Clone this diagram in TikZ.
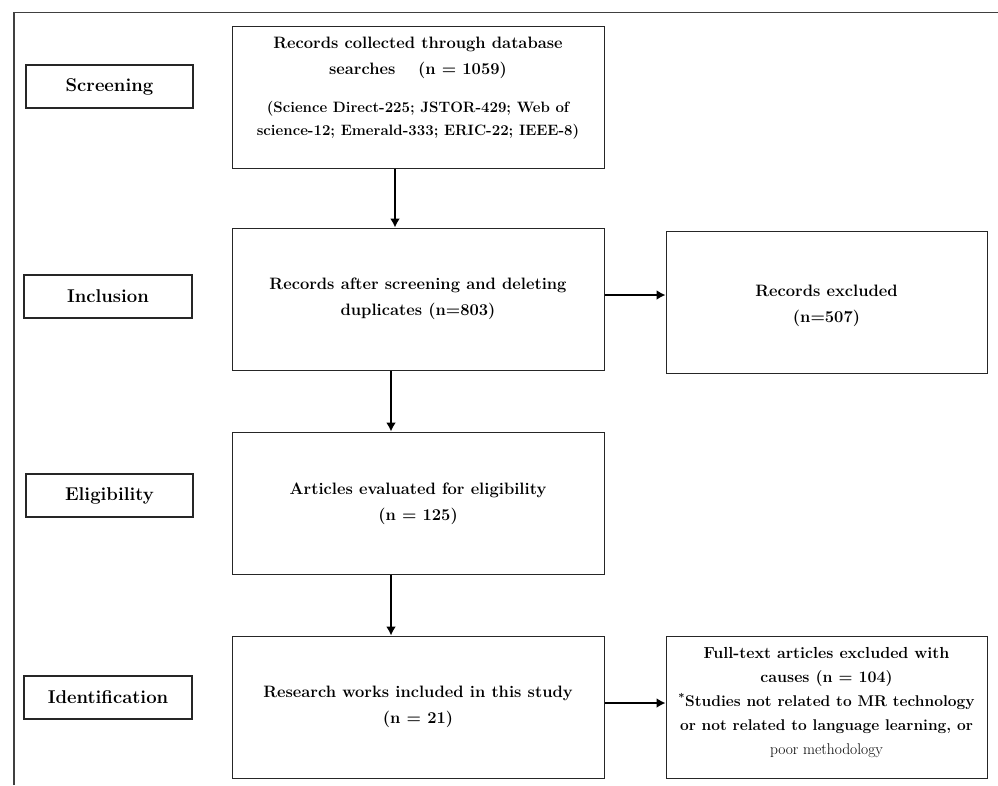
\documentclass[tikz,border=0pt]{standalone}
\usetikzlibrary{arrows.meta}
\begin{document}
\begin{tikzpicture}[x=1pt,y=-1pt,
  stage/.style={draw=black!85,line width=1.2pt,inner sep=0pt},
  flowbox/.style={draw=black!85,line width=1pt,inner sep=0pt},
  txt/.style={align=center,inner sep=0pt,font=\fontsize{16.5}{26}\selectfont\bfseries},
  small/.style={align=center,inner sep=0pt,font=\fontsize{15}{23}\selectfont\bfseries},
  rtxt/.style={align=center,inner sep=0pt,font=\fontsize{15.5}{24}\selectfont\bfseries},
  stagetxt/.style={inner sep=0pt,font=\fontsize{18.5}{20}\selectfont\bfseries},
  arr/.style={line width=2.6pt,-{Latex[length=9pt,width=10pt]}}]
\useasboundingbox (0,0) rectangle (998,785);
% outer frame (top and left edges)
\coordinate (ftl) at (14,12.5);
\coordinate (ftr) at (998,12.5);
\coordinate (fbl) at (14,785);
\draw[line width=1.4pt,black!75] (fbl) -- (ftl) -- (ftr);
% stage labels
\node[stage,minimum width=167,minimum height=43] (s1) at (109.5,86.5) {};
\node[stagetxt] (s1t) at (s1) {Screening};
\node[stage,minimum width=168,minimum height=43] (s2) at (108,296.5) {};
\node[stagetxt] (s2t) at (s2) {Inclusion};
\node[stage,minimum width=167,minimum height=43] (s3) at (109.5,495.5) {};
\node[stagetxt] (s3t) at (s3) {Eligibility};
\node[stage,minimum width=168,minimum height=43] (s4) at (108,697.5) {};
\node[stagetxt] (s4t) at (s4) {Identification};
% main boxes
\node[flowbox,minimum width=372,minimum height=142] (b1) at (418,97) {};
\node[txt] (b1t) at (418,58) {Records collected through database\\searches \quad (n = 1059)};
\node[small] (b1s) at (418,120) {(Science Direct-225; JSTOR-429; Web of\\science-12; Emerald-333; ERIC-22; IEEE-8)};
\node[flowbox,minimum width=372,minimum height=142] (b2) at (418,299) {};
\node[txt] (b2t) at (418,299) {Records after screening and deleting\\duplicates (n=803)};
\node[flowbox,minimum width=372,minimum height=142] (b3) at (418,503) {};
\node[txt] (b3t) at (418,504) {Articles evaluated for eligibility\\(n = 125)};
\node[flowbox,minimum width=372,minimum height=142] (b4) at (418,707) {};
\node[txt] (b4t) at (418,707) {Research works included in this study\\(n = 21)};
% right boxes
\node[flowbox,minimum width=321,minimum height=142] (r1) at (826.5,302) {};
\node[txt] (r1t) at (826.5,306) {Records excluded\\(n=507)};
\node[flowbox,minimum width=321,minimum height=142] (r2) at (826.5,707) {};
\node[rtxt] (r2t) at (826.5,703) {\fontsize{16}{24}\selectfont Full-text articles excluded with\\\fontsize{16}{24}\selectfont causes (n = 104)\\\textsuperscript{*}Studies not related to MR technology\\or not related to language learning, or\\\mdseries poor methodology};
% arrows
\draw[arr] (b1.south -| 395,0) -- (b2.north -| 395,0);
\draw[arr] (b2.south -| 391,0) -- (b3.north -| 391,0);
\draw[arr] (b3.south -| 391,0) -- (b4.north -| 391,0);
\draw[arr] (b2.east |- 0,295) -- (r1.west |- 0,295);
\draw[arr] (b4.east |- 0,703) -- (r2.west |- 0,703);
\end{tikzpicture}
\end{document}
